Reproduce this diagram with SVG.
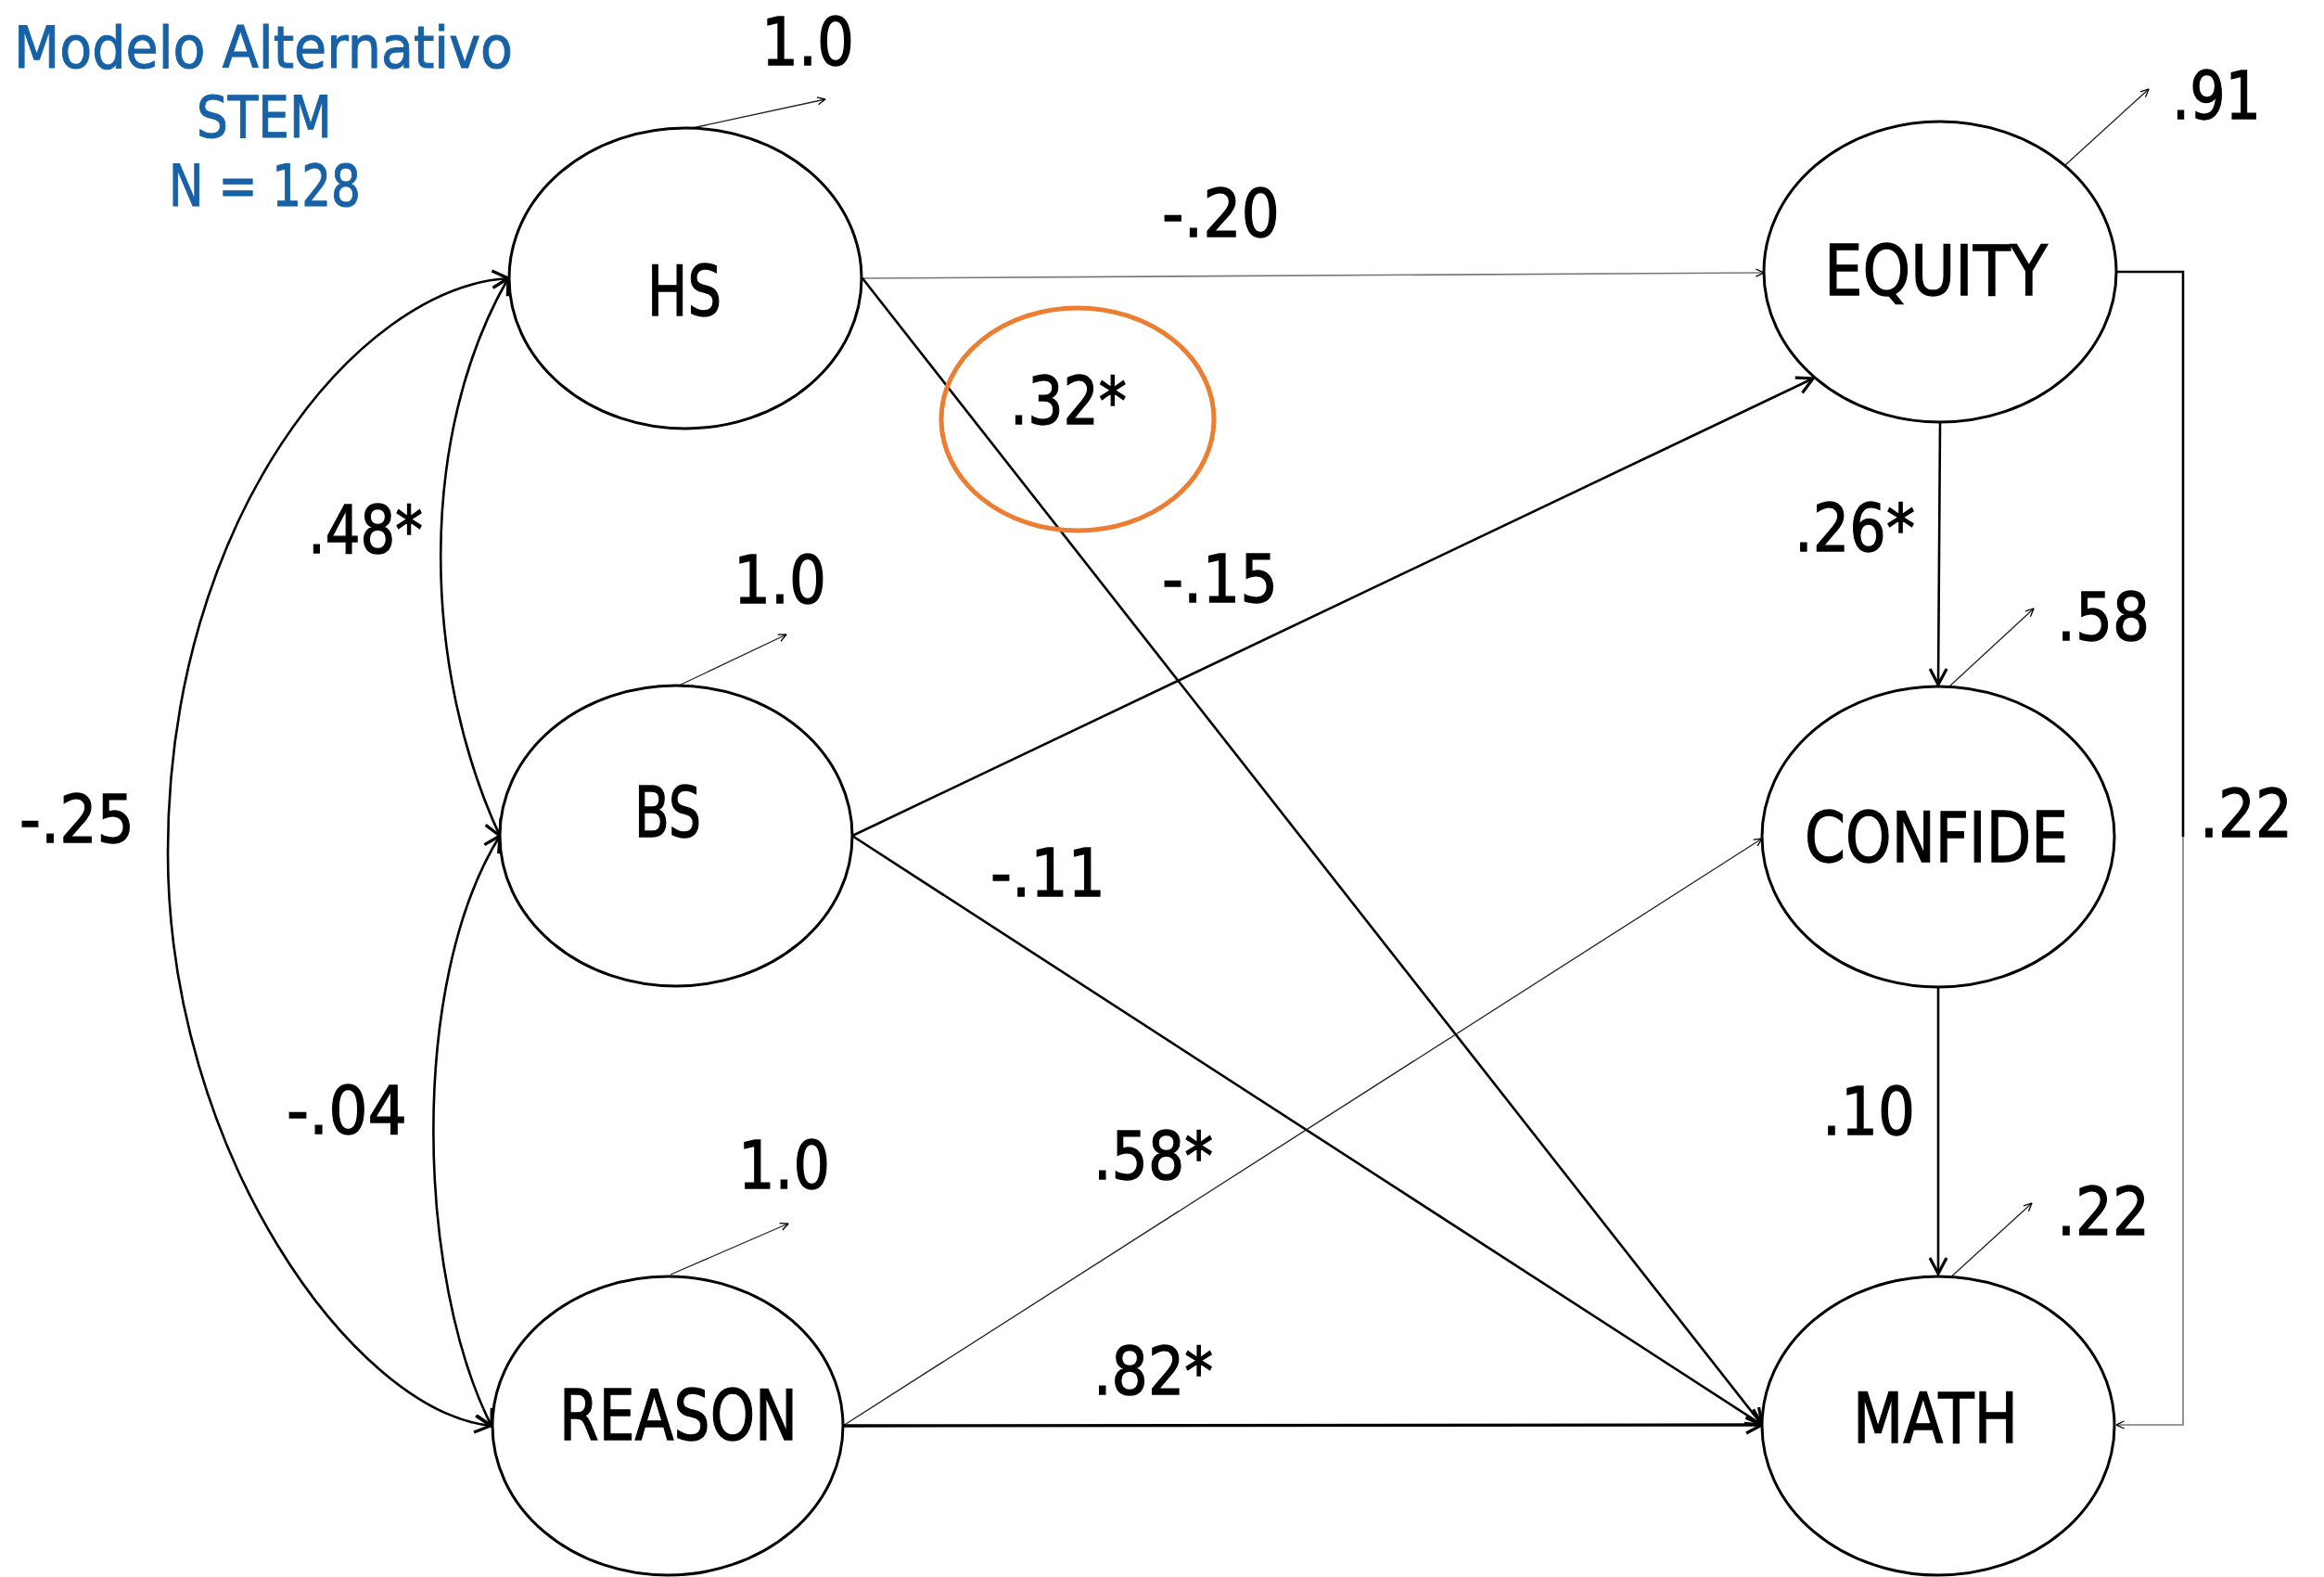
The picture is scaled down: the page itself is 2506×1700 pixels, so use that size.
<svg xmlns="http://www.w3.org/2000/svg" width="2506" height="1700" viewBox="0 0 2506 1700">
<style>
.node{fill:#fff;stroke:#000;stroke-width:3}
.nl{font-family:"DejaVu Sans","Liberation Sans",sans-serif;font-size:74px;fill:#000;stroke:#000;stroke-width:1.3}
.el{font-family:"DejaVu Sans","Liberation Sans",sans-serif;font-size:71px;fill:#000;stroke:#000;stroke-width:1.3}
.ttl{font-family:"DejaVu Sans","Liberation Sans",sans-serif;font-size:62px;fill:#1761a6;stroke:#1761a6;stroke-width:1}
.w{fill:none;stroke:#000;stroke-width:2.6}
.thin{fill:none;stroke:#222;stroke-width:1.3}
.grey{fill:none;stroke:#777;stroke-width:1.6}
</style>
<defs>
<marker id="arr" viewBox="0 0 22 22" refX="20" refY="11" markerWidth="22" markerHeight="22" markerUnits="userSpaceOnUse" orient="auto-start-reverse">
<path d="M3,2 L20,11 L3,20" fill="none" stroke="#000" stroke-width="3.2"/>
</marker>
<marker id="arrs" viewBox="0 0 10 10" refX="9.5" refY="5" markerWidth="10" markerHeight="10" markerUnits="userSpaceOnUse" orient="auto">
<path d="M1,1 L9.5,5 L1,9" fill="none" stroke="#000" stroke-width="1.3"/>
</marker>
</defs>
<rect width="2506" height="1700" fill="#fff"/>

<g id="title">
<text class="ttl" x="15" y="73" textLength="538" lengthAdjust="spacingAndGlyphs">Modelo Alternativo</text>
<text class="ttl" x="212" y="148" textLength="146" lengthAdjust="spacingAndGlyphs">STEM</text>
<text class="ttl" x="182" y="222" textLength="207" lengthAdjust="spacingAndGlyphs">N = 128</text>
</g>

<g id="connectors">
<!-- residual arrows -->
<path class="thin" d="M742,139 L890,107" marker-end="url(#arrs)"/>
<path class="thin" d="M730,740 L848,684" marker-end="url(#arrs)"/>
<path class="thin" d="M723,1374 L850,1319" marker-end="url(#arrs)"/>
<path class="thin" d="M2227,178 L2317,96" marker-end="url(#arrs)"/>
<path class="thin" d="M2102,740 L2193,656" marker-end="url(#arrs)"/>
<path class="thin" d="M2100,1380 L2191,1297" marker-end="url(#arrs)"/>
<!-- paths -->
<path class="grey" d="M930,300 L1902,294" marker-end="url(#arrs)"/>
<path class="w" d="M930,300 L1900,1536" marker-end="url(#arr)"/>
<path class="w" d="M919,901 L1955,408" marker-end="url(#arr)"/>
<path class="w" d="M919,901 L1900,1536" marker-end="url(#arr)"/>
<path class="thin" d="M909,1537 L1900,904" marker-end="url(#arrs)"/>
<path class="w" style="stroke-width:3.4" d="M909,1537 L1900,1536" marker-end="url(#arr)"/>
<path class="w" d="M2092,455 L2090,738" marker-end="url(#arr)"/>
<path class="w" d="M2090,1064 L2090,1373" marker-end="url(#arr)"/>
<path class="w" d="M2282,293 L2354,293 L2354,902"/>
<path class="grey" d="M2354,902 L2354,1536 L2282,1536" marker-end="url(#arrs)"/>
<!-- covariances -->
<path class="w" d="M548,300 C450,470 455,720 539,901" marker-start="url(#arr)" marker-end="url(#arr)"/>
<path class="w" d="M539,901 C440,1060 450,1380 530,1537" marker-start="url(#arr)" marker-end="url(#arr)"/>
<path class="w" d="M548,300 C385,310 181,560 181,919 C181,1240 380,1520 529,1537" marker-start="url(#arr)" marker-end="url(#arr)"/>
<!-- highlight -->
<ellipse cx="1162" cy="452" rx="147" ry="120" fill="none" stroke="#ED7D31" stroke-width="5"/>
<!-- labels -->
<text class="el" x="821" y="70" textLength="100" lengthAdjust="spacingAndGlyphs">1.0</text>
<text class="el" x="1253" y="255" textLength="127" lengthAdjust="spacingAndGlyphs">-.20</text>
<text class="el" x="1089" y="457" textLength="126" lengthAdjust="spacingAndGlyphs">.32*</text>
<text class="el" x="332" y="596" textLength="124" lengthAdjust="spacingAndGlyphs">.48*</text>
<text class="el" x="791" y="650" textLength="100" lengthAdjust="spacingAndGlyphs">1.0</text>
<text class="el" x="1253" y="649" textLength="125" lengthAdjust="spacingAndGlyphs">-.15</text>
<text class="el" x="21" y="908" textLength="124" lengthAdjust="spacingAndGlyphs">-.25</text>
<text class="el" x="1068" y="966" textLength="124" lengthAdjust="spacingAndGlyphs">-.11</text>
<text class="el" x="309" y="1222" textLength="130" lengthAdjust="spacingAndGlyphs">-.04</text>
<text class="el" x="796" y="1281" textLength="99" lengthAdjust="spacingAndGlyphs">1.0</text>
<text class="el" x="1179" y="1271" textLength="129" lengthAdjust="spacingAndGlyphs">.58*</text>
<text class="el" x="1179" y="1503" textLength="129" lengthAdjust="spacingAndGlyphs">.82*</text>
<text class="el" x="2342" y="128" textLength="96" lengthAdjust="spacingAndGlyphs">.91</text>
<text class="el" x="1935" y="594" textLength="130" lengthAdjust="spacingAndGlyphs">.26*</text>
<text class="el" x="2218" y="690" textLength="100" lengthAdjust="spacingAndGlyphs">.58</text>
<text class="el" x="2372" y="902" textLength="100" lengthAdjust="spacingAndGlyphs">.22</text>
<text class="el" x="1965" y="1223" textLength="100" lengthAdjust="spacingAndGlyphs">.10</text>
<text class="el" x="2218" y="1331" textLength="100" lengthAdjust="spacingAndGlyphs">.22</text>
</g>

<g id="node-HS">
<ellipse class="node" cx="739" cy="300" rx="190" ry="162"/>
<text class="nl" x="698" y="340" textLength="80" lengthAdjust="spacingAndGlyphs">HS</text>
</g>
<g id="node-BS">
<ellipse class="node" cx="729" cy="901" rx="190" ry="162"/>
<text class="nl" x="684" y="902" textLength="72" lengthAdjust="spacingAndGlyphs">BS</text>
</g>
<g id="node-REASON">
<ellipse class="node" cx="720" cy="1537" rx="189" ry="161"/>
<text class="nl" x="603" y="1552" textLength="257" lengthAdjust="spacingAndGlyphs">REASON</text>
</g>
<g id="node-EQUITY">
<ellipse class="node" cx="2092" cy="293" rx="190" ry="162"/>
<text class="nl" x="1967" y="318" textLength="241" lengthAdjust="spacingAndGlyphs">EQUITY</text>
</g>
<g id="node-CONFIDE">
<ellipse class="node" cx="2090" cy="902" rx="190" ry="162"/>
<text class="nl" x="1946" y="929" textLength="284" lengthAdjust="spacingAndGlyphs">CONFIDE</text>
</g>
<g id="node-MATH">
<ellipse class="node" cx="2090" cy="1537" rx="190" ry="161"/>
<text class="nl" x="1998" y="1555" textLength="178" lengthAdjust="spacingAndGlyphs">MATH</text>
</g>
</svg>
